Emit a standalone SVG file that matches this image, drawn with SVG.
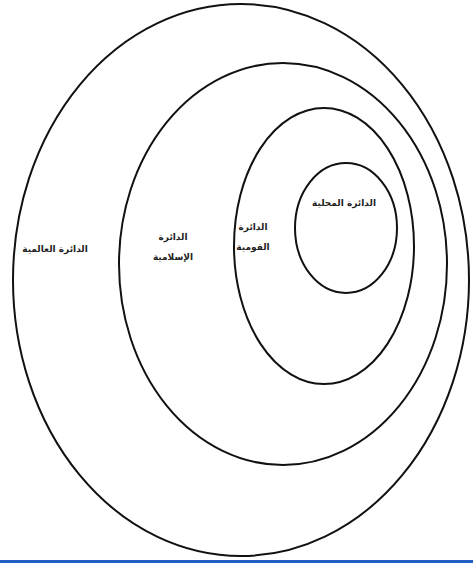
<svg xmlns="http://www.w3.org/2000/svg" width="473" height="563" viewBox="0 0 473 563">
<style>
.ring{fill:none;stroke:#111;stroke-width:2}
.lbl{font-family:"DejaVu Sans","Noto Sans",sans-serif;font-size:9px;font-weight:bold;fill:#222;text-anchor:middle}
</style>
<rect width="473" height="563" fill="#fff"/>
<g id="world">
<ellipse class="ring" cx="241" cy="280" rx="228" ry="276"/>
<text class="lbl" x="55" y="252" direction="rtl">الدائرة العالمية</text>
</g>
<g id="islamic">
<ellipse class="ring" cx="283" cy="264" rx="164" ry="201"/>
<text class="lbl" x="173" y="240" direction="rtl">الدائرة</text>
<text class="lbl" x="173" y="260" direction="rtl">الإسلامية</text>
</g>
<g id="national">
<ellipse class="ring" cx="324" cy="246" rx="90" ry="138"/>
<text class="lbl" x="253" y="230" direction="rtl">الدائرة</text>
<text class="lbl" x="253" y="250" direction="rtl">القومية</text>
</g>
<g id="local">
<ellipse class="ring" cx="346" cy="228" rx="51" ry="65"/>
<text class="lbl" x="344" y="206" direction="rtl">الدائرة المحلية</text>
</g>
<g id="connectors"></g>
<rect x="0" y="560" width="473" height="3" fill="#1f5fc4"/>
</svg>
